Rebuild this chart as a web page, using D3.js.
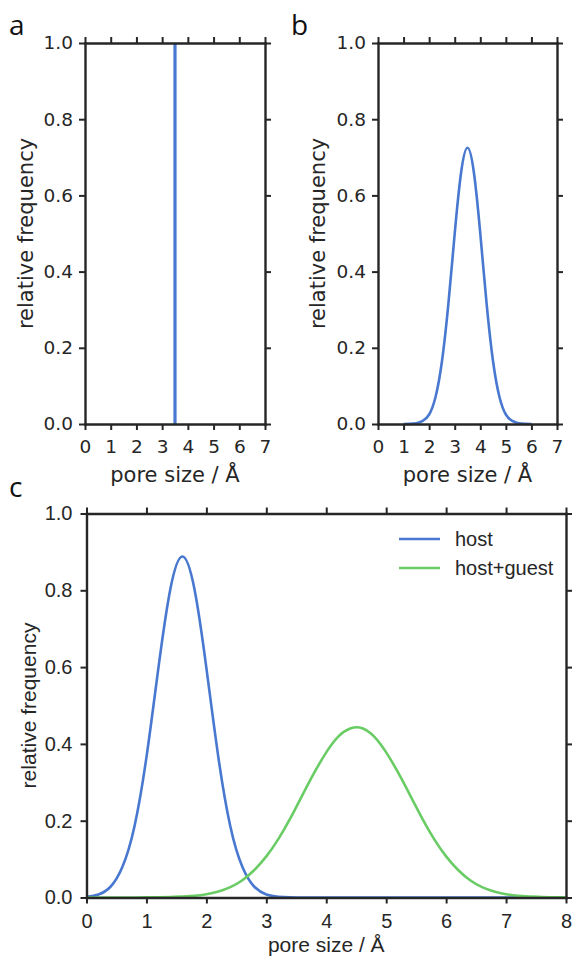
<!DOCTYPE html>
<html>
<head>
<meta charset="utf-8">
<script src="https://cdn.jsdelivr.net/npm/d3@7"></script>
<style>
  body { margin: 0; background: #fff; }
  svg { display: block; background: #fff; }
</style>
</head>
<body>
<svg id="chart" width="574" height="958"></svg>
<script>
// panel a: one pore size only
const aX = [3.5, 3.5];
const aY = [0, 1];

// panel b: narrow distribution around 3.5 A
const bX = [1.0, 1.25, 1.5, 1.75, 2.0, 2.25, 2.5, 2.75, 3.0, 3.25, 3.5,
            3.75, 4.0, 4.25, 4.5, 4.75, 5.0, 5.25, 5.5, 5.75, 6.0];
const bY = [0, 0.0004, 0.002, 0.008, 0.025, 0.071, 0.164, 0.314, 0.500, 0.660, 0.725,
            0.660, 0.500, 0.314, 0.164, 0.071, 0.025, 0.008, 0.002, 0.0004, 0];

// panel c: host vs host+guest
const cX = [0, 0.2, 0.4, 0.6, 0.8, 1.0, 1.2, 1.4, 1.6, 1.8, 2.0, 2.2, 2.4, 2.6, 2.8,
            3.0, 3.2, 3.4, 3.6, 3.8, 4.0, 4.2, 4.4, 4.6, 4.8, 5.0, 5.2, 5.4, 5.6, 5.8,
            6.0, 6.2, 6.4, 6.6, 6.8, 7.0, 7.2, 7.4, 7.6, 7.8, 8.0];
const hostY = [0.002, 0.008, 0.028, 0.080, 0.185, 0.365, 0.598, 0.804, 0.888, 0.804, 0.598,
               0.365, 0.185, 0.080, 0.028, 0.008, 0.002, 0.0005, 0, 0, 0, 0, 0, 0, 0, 0,
               0, 0, 0, 0, 0, 0, 0, 0, 0, 0, 0, 0, 0, 0, 0];
const guestY = [0, 0, 0, 0, 0, 0.0002, 0.0005, 0.001, 0.0025, 0.0045, 0.0086,
                0.0157, 0.027, 0.045, 0.0716, 0.107, 0.152, 0.206, 0.266, 0.325, 0.378,
                0.419, 0.440, 0.441, 0.419, 0.378, 0.325, 0.266, 0.206, 0.152, 0.107,
                0.0716, 0.045, 0.027, 0.0157, 0.0086, 0.0045, 0.0025, 0.001, 0.0005, 0.0002];
const seriesNames = ["host", "host+guest"];

const yTicks = [0, 0.2, 0.4, 0.6, 0.8, 1.0];
const xTicksAB = [0, 1, 2, 3, 4, 5, 6, 7];
const xTicksC = [0, 1, 2, 3, 4, 5, 6, 7, 8];

const blue = "#4878cf", green = "#6acc65", ink = "#262626";

const svg = d3.select("#chart");

function drawPanel(p) {
  const g = svg.append("g");
  const x = d3.scaleLinear().domain([0, p.xTicks[p.xTicks.length - 1]]).range([p.left, p.right]);
  const y = d3.scaleLinear().domain([0, 1]).range([p.bottom, p.top]);

  // curves first, spines on top
  p.series.forEach((s) => {
    const pts = s.xs.map((v, i) => [v, s.ys[i]]);
    g.append("path")
      .datum(pts)
      .attr("fill", "none")
      .attr("stroke", s.color)
      .attr("stroke-width", s.width)
      .attr("stroke-linejoin", "round")
      .attr("d", d3.line().x((d) => x(d[0])).y((d) => y(d[1])).curve(s.curve));
  });

  const axes = [
    [d3.axisBottom(x).tickValues(p.xTicks).tickFormat(d3.format("d")).tickPadding(p.padX), `translate(0,${p.bottom})`],
    [d3.axisTop(x).tickValues(p.xTicks).tickFormat(""), `translate(0,${p.top})`],
    [d3.axisLeft(y).tickValues(yTicks).tickFormat(d3.format(".1f")).tickPadding(p.padY), `translate(${p.left},0)`],
    [d3.axisRight(y).tickValues(yTicks).tickFormat(""), `translate(${p.right},0)`]
  ];
  axes.forEach(([ax, tr]) => {
    const a = g.append("g")
      .attr("transform", tr)
      .call(ax.tickSize(6).tickSizeOuter(0));
    a.attr("font-family", p.font).attr("font-size", p.tickSize).style("color", ink);
    a.selectAll(".domain").attr("stroke-width", 2.4).attr("stroke-linecap", "square");
    a.selectAll(".tick line").attr("stroke-width", 2);
  });

  g.append("text")
    .attr("x", (p.left + p.right) / 2)
    .attr("y", p.xLabelY)
    .attr("text-anchor", "middle")
    .attr("font-family", p.font)
    .attr("font-size", p.labelSize)
    .attr("fill", ink)
    .text("pore size / Å");

  g.append("text")
    .attr("transform", `translate(${p.yLabelX},${(p.top + p.bottom) / 2}) rotate(-90)`)
    .attr("text-anchor", "middle")
    .attr("font-family", p.font)
    .attr("font-size", p.labelSize)
    .attr("fill", ink)
    .text("relative frequency");

  g.append("text")
    .attr("x", p.letterX)
    .attr("y", p.letterY)
    .attr("font-family", "'Open Sans', sans-serif")
    .attr("font-size", 28)
    .attr("fill", "#111")
    .text(p.letter);

  return { x, y, g };
}

const fontAB = "'DejaVu Sans', sans-serif";
const fontC = "'Liberation Sans', Arial, sans-serif";

drawPanel({
  letter: "a", letterX: 9, letterY: 35,
  left: 85, right: 265, top: 43, bottom: 424,
  xTicks: xTicksAB, font: fontAB, tickSize: 18.5, labelSize: 21, padX: 10, padY: 6,
  xLabelY: 482, yLabelX: 33,
  series: [{ xs: aX, ys: aY, color: blue, width: 3.2, curve: d3.curveLinear }]
});

drawPanel({
  letter: "b", letterX: 291, letterY: 35,
  left: 378, right: 557, top: 43, bottom: 424,
  xTicks: xTicksAB, font: fontAB, tickSize: 18.5, labelSize: 21, padX: 10, padY: 6,
  xLabelY: 482, yLabelX: 325,
  series: [{ xs: bX, ys: bY, color: blue, width: 2.6, curve: d3.curveNatural }]
});

drawPanel({
  letter: "c", letterX: 9, letterY: 497,
  left: 86.5, right: 566, top: 513.5, bottom: 897.5,
  xTicks: xTicksC, font: fontC, tickSize: 20, labelSize: 21, padX: 10, padY: 8,
  xLabelY: 952, yLabelX: 36,
  series: [
    { xs: cX, ys: hostY, color: blue, width: 2.6, curve: d3.curveNatural },
    { xs: cX, ys: guestY, color: green, width: 2.6, curve: d3.curveNatural }
  ]
});

// legend for panel c
const legend = svg.append("g").attr("font-family", fontC).attr("font-size", 20);
[blue, green].forEach((col, i) => {
  const ly = 539 + i * 29;
  legend.append("line")
    .attr("x1", 399).attr("x2", 440)
    .attr("y1", ly).attr("y2", ly)
    .attr("stroke", col).attr("stroke-width", 2.6);
  legend.append("text")
    .attr("x", 455).attr("y", ly + 7)
    .attr("fill", ink)
    .text(seriesNames[i]);
});
</script>
</body>
</html>
